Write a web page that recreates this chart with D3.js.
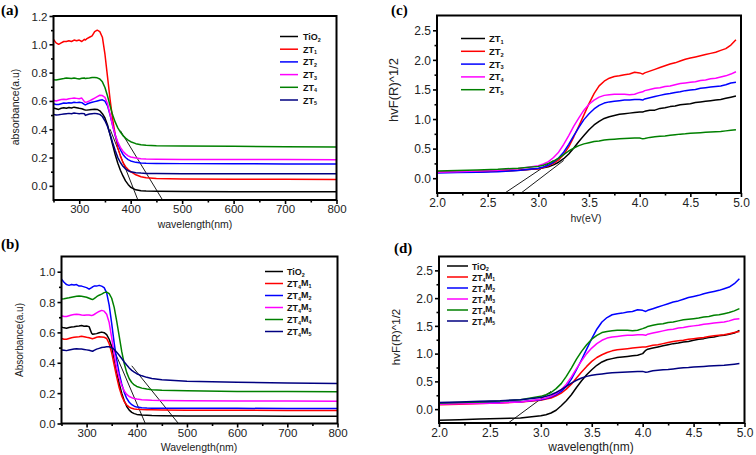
<!DOCTYPE html>
<html><head><meta charset="utf-8">
<script src="https://cdn.jsdelivr.net/npm/d3@7/dist/d3.min.js"></script>
<style>html,body{margin:0;padding:0;background:#fff;}svg{display:block;}</style>
</head><body>
<script>
// ---------- DATA ----------
const wavelengths = [250,255,260,265,270,275,280,285,290,295,300,305,310,312,315,320,325,330,335,340,345,350,355,360,365,370,375,380,385,390,395,400,410,420,430,450,500,600,700,800];
// panel (a)
const aTiO2 = [.550,.545,.540,.548,.552,.548,.553,.550,.556,.552,.548,.545,.538,.536,.535,.537,.540,.542,.540,.530,.510,.480,.430,.360,.290,.220,.160,.110,.070,.035,.010,-.010,-.028,-.034,-.037,-.039,-.040,-.041,-.042,-.042];
const aZT1 = [1.035,1.01,1.00,1.01,1.02,1.02,1.025,1.02,1.03,1.025,1.03,1.02,1.035,1.03,1.04,1.05,1.06,1.09,1.10,1.09,1.05,.93,.77,.61,.47,.36,.27,.21,.165,.135,.115,.100,.078,.064,.057,.052,.049,.047,.046,.045];
const aZT2 = [.580,.575,.575,.580,.585,.583,.587,.585,.590,.588,.590,.588,.575,.572,.578,.585,.590,.595,.600,.605,.608,.598,.565,.500,.425,.355,.300,.255,.222,.200,.185,.176,.166,.161,.159,.158,.157,.156,.155,.155];
const aZT3 = [.605,.600,.605,.610,.612,.610,.615,.618,.620,.618,.615,.620,.595,.590,.592,.600,.610,.620,.630,.640,.638,.625,.580,.505,.425,.360,.310,.272,.245,.226,.212,.204,.196,.192,.190,.188,.187,.186,.186,.185];
const aZT4 = [.750,.748,.752,.755,.758,.762,.760,.758,.762,.758,.755,.760,.762,.758,.760,.762,.765,.765,.763,.755,.735,.695,.635,.565,.500,.450,.410,.380,.355,.337,.323,.312,.298,.290,.286,.283,.281,.279,.277,.275];
const aZT5 = [.505,.500,.502,.505,.508,.510,.512,.510,.514,.512,.510,.512,.510,.498,.502,.508,.510,.512,.510,.505,.490,.460,.420,.365,.305,.250,.200,.165,.138,.120,.107,.099,.093,.090,.088,.087,.086,.086,.085,.085];
const aTangentX = [[360,414],[380,462]];
const aTangentY = [[0.40,-0.10],[0.39,-0.10]];
// panel (b)
const bTiO2 = [.635,.630,.628,.632,.635,.637,.640,.642,.645,.640,.642,.638,.595,.588,.590,.592,.598,.602,.598,.585,.555,.505,.425,.340,.262,.200,.150,.112,.088,.073,.065,.060,.056,.054,.052,.051,.050,.049,.048,.048];
const bZT4M1 = [.560,.555,.555,.560,.565,.568,.570,.572,.575,.572,.568,.565,.560,.558,.562,.568,.572,.570,.568,.560,.525,.465,.385,.305,.235,.182,.145,.122,.108,.100,.096,.094,.092,.091,.090,.089,.088,.087,.086,.086];
const bZT4M2 = [.950,.930,.915,.910,.915,.912,.915,.905,.905,.900,.895,.885,.895,.900,.905,.905,.910,.905,.895,.860,.780,.660,.530,.420,.330,.260,.205,.165,.140,.124,.114,.108,.104,.102,.101,.100,.100,.100,.099,.099];
const bZT4M3 = [.710,.705,.705,.710,.715,.718,.720,.718,.715,.713,.715,.715,.712,.713,.718,.728,.738,.745,.740,.720,.665,.565,.455,.365,.300,.250,.215,.192,.178,.170,.165,.161,.157,.155,.153,.152,.150,.149,.148,.147];
const bZT4M4 = [.820,.822,.825,.828,.832,.835,.838,.840,.838,.835,.832,.825,.818,.817,.822,.835,.845,.852,.862,.866,.855,.825,.765,.675,.575,.475,.395,.335,.295,.270,.254,.244,.233,.227,.223,.219,.215,.211,.210,.209];
const bZT4M5 = [.484,.482,.480,.484,.487,.490,.492,.490,.490,.488,.485,.482,.478,.476,.482,.490,.495,.500,.503,.505,.505,.500,.488,.470,.450,.428,.405,.385,.366,.350,.338,.328,.314,.304,.297,.288,.278,.271,.267,.264];
const bTangentX = [[350,417],[390,483]];
const bTangentY = [[0.52,0.0],[0.38,0.0]];
// panels (c) and (d)
const energies = [2.0,2.2,2.4,2.6,2.8,3.0,3.05,3.1,3.15,3.2,3.25,3.3,3.35,3.4,3.45,3.5,3.55,3.6,3.65,3.7,3.75,3.8,3.85,3.9,3.95,4.0,4.03,4.05,4.1,4.15,4.2,4.25,4.3,4.35,4.4,4.45,4.5,4.55,4.6,4.65,4.7,4.75,4.8,4.85,4.9,4.95];
const cZT1 = [.10,.105,.11,.12,.135,.16,.175,.195,.225,.27,.33,.41,.51,.62,.72,.82,.90,.96,1.01,1.04,1.06,1.08,1.09,1.10,1.11,1.12,1.12,1.13,1.15,1.15,1.18,1.19,1.21,1.22,1.24,1.25,1.26,1.28,1.29,1.30,1.31,1.32,1.33,1.35,1.37,1.39];
const cZT2 = [.10,.105,.11,.12,.135,.16,.18,.21,.25,.31,.40,.53,.70,.88,1.07,1.26,1.43,1.56,1.64,1.69,1.72,1.73,1.75,1.76,1.79,1.78,1.76,1.78,1.81,1.84,1.87,1.90,1.93,1.95,1.98,2.01,2.03,2.05,2.07,2.09,2.11,2.13,2.16,2.19,2.25,2.34];
const cZT3 = [.09,.095,.10,.11,.13,.17,.19,.22,.27,.34,.44,.57,.72,.86,.99,1.09,1.17,1.23,1.27,1.29,1.30,1.31,1.32,1.32,1.33,1.33,1.32,1.34,1.36,1.38,1.40,1.42,1.43,1.45,1.46,1.48,1.49,1.50,1.52,1.53,1.54,1.55,1.56,1.58,1.61,1.62];
const cZT4 = [.10,.11,.12,.135,.16,.21,.24,.28,.35,.44,.57,.72,.88,1.02,1.15,1.25,1.32,1.37,1.40,1.41,1.42,1.42,1.42,1.41,1.42,1.45,1.46,1.48,1.50,1.52,1.53,1.55,1.56,1.58,1.60,1.61,1.62,1.63,1.65,1.66,1.68,1.69,1.71,1.73,1.76,1.80];
const cZT5 = [.12,.13,.14,.15,.17,.20,.22,.25,.29,.34,.40,.46,.51,.55,.58,.60,.62,.63,.645,.655,.66,.665,.67,.675,.68,.68,.665,.67,.69,.70,.71,.715,.725,.735,.745,.75,.76,.765,.77,.775,.78,.785,.79,.80,.81,.82];
const cTangentX = [[2.67,3.15],[2.83,3.25]];
const cTangentY = [[-0.25,0.30],[-0.25,0.30]];
const dTiO2 = [-.20,-.19,-.18,-.17,-.16,-.12,-.10,-.07,-.02,.06,.15,.26,.39,.51,.62,.71,.79,.85,.89,.91,.93,.94,.95,.96,.97,1.0,1.06,1.08,1.10,1.12,1.14,1.16,1.18,1.19,1.21,1.22,1.24,1.26,1.27,1.29,1.30,1.32,1.33,1.35,1.37,1.42];
const dZT4M1 = [.08,.09,.10,.11,.13,.16,.18,.20,.24,.29,.36,.45,.56,.67,.77,.86,.93,.98,1.02,1.05,1.07,1.08,1.09,1.10,1.11,1.12,1.12,1.13,1.15,1.16,1.18,1.20,1.22,1.23,1.24,1.26,1.27,1.28,1.29,1.31,1.32,1.33,1.34,1.36,1.38,1.40];
const dZT4M2 = [.10,.105,.11,.12,.135,.17,.19,.22,.26,.32,.41,.54,.71,.89,1.08,1.27,1.44,1.57,1.65,1.70,1.72,1.73,1.75,1.76,1.79,1.78,1.76,1.78,1.81,1.84,1.87,1.90,1.93,1.95,1.98,2.01,2.03,2.05,2.08,2.10,2.12,2.14,2.17,2.20,2.26,2.35];
const dZT4M3 = [.09,.095,.10,.11,.13,.18,.20,.23,.28,.35,.45,.58,.73,.87,1.00,1.10,1.18,1.24,1.28,1.30,1.31,1.32,1.33,1.33,1.34,1.34,1.33,1.35,1.37,1.39,1.41,1.43,1.44,1.46,1.47,1.49,1.50,1.51,1.53,1.54,1.55,1.56,1.57,1.59,1.62,1.63];
const dZT4M4 = [.11,.12,.13,.145,.17,.23,.26,.30,.37,.46,.59,.74,.90,1.04,1.16,1.26,1.33,1.38,1.40,1.41,1.42,1.42,1.42,1.41,1.42,1.45,1.47,1.49,1.51,1.53,1.54,1.56,1.57,1.59,1.61,1.62,1.63,1.64,1.66,1.67,1.69,1.70,1.72,1.74,1.77,1.81];
const dZT4M5 = [.12,.13,.14,.15,.17,.21,.23,.26,.30,.35,.41,.47,.52,.56,.59,.61,.625,.635,.645,.655,.66,.665,.67,.675,.68,.68,.665,.67,.69,.70,.71,.715,.725,.735,.745,.75,.76,.765,.77,.775,.78,.785,.79,.80,.81,.82];
const dTangentX = [[2.68,3.10]];
const dTangentY = [[-0.25,0.32]];
// tick labels
const nmMajorTicks = [300,400,500,600,700,800];
const nmMinorTicks = [250,350,450,550,650,750];
const aYMajorTicks = [0.0,0.2,0.4,0.6,0.8,1.0,1.2];
const aYMinorTicks = [-0.1,0.1,0.3,0.5,0.7,0.9,1.1];
const bYMajorTicks = [0.0,0.2,0.4,0.6,0.8,1.0];
const bYMinorTicks = [0.1,0.3,0.5,0.7,0.9];
const evMajorTicks = [2.0,2.5,3.0,3.5,4.0,4.5,5.0];
const evMinorTicks = [2.25,2.75,3.25,3.75,4.25,4.75];
const fYMajorTicks = [0.0,0.5,1.0,1.5,2.0,2.5];
const fYMinorTicks = [-0.25,0.25,0.75,1.25,1.75,2.25];
// legend labels: parts alternate normal / subscript
const aLabels = [["TiO","2"],["ZT","1"],["ZT","2"],["ZT","3"],["ZT","4"],["ZT","5"]];
const bLabels = [["TiO","2"],["ZT","4","M","1"],["ZT","4","M","2"],["ZT","4","M","3"],["ZT","4","M","4"],["ZT","4","M","5"]];
const cLabels = [["ZT","1"],["ZT","2"],["ZT","3"],["ZT","4"],["ZT","5"]];
const dLabels = bLabels;

// ---------- STYLE ----------
const C = {black:"#000000", red:"#ff0000", blue:"#0000ff", magenta:"#ff00ff", green:"#008000", navy:"#000080"};

const svg = d3.select("body").append("svg").attr("width",756).attr("height",455)
  .style("font-family","Arial, 'Liberation Sans', Helvetica, sans-serif");

function drawPanel(p, idx){
  const x = d3.scaleLinear().domain(p.xDomain).range([p.left,p.right]);
  const y = d3.scaleLinear().domain(p.yDomain).range([p.bottom,p.top]);
  const g = svg.append("g");
  const cid = "clip"+idx;
  svg.append("clipPath").attr("id",cid).append("rect")
    .attr("x",p.left).attr("y",p.top).attr("width",p.right-p.left).attr("height",p.bottom-p.top);
  const plot = g.append("g").attr("clip-path",`url(#${cid})`);
  const line = d3.line().x(d=>x(d[0])).y(d=>y(d[1])).curve(d3.curveLinear);
  p.tx.forEach((tx,i)=>{
    plot.append("line").attr("x1",x(tx[0])).attr("y1",y(p.ty[i][0]))
      .attr("x2",x(tx[1])).attr("y2",y(p.ty[i][1]))
      .attr("stroke","#000").attr("stroke-width",0.9);
  });
  p.series.forEach(s=>{
    plot.append("path").datum(p.xs.map((v,i)=>[v,s.values[i]]))
      .attr("d",line).attr("fill","none").attr("stroke",s.color)
      .attr("stroke-width",1.5).attr("stroke-linejoin","round");
  });
  const fmt = p.fmt;
  const ax = g.append("g").attr("transform",`translate(0,${p.bottom})`)
    .call(d3.axisBottom(x).tickValues(p.xMajor).tickFormat(fmt.x).tickSize(4).tickSizeOuter(0));
  const axm = g.append("g").attr("transform",`translate(0,${p.bottom})`)
    .call(d3.axisBottom(x).tickValues(p.xMinor).tickFormat("").tickSize(2.5).tickSizeOuter(0));
  const ay = g.append("g").attr("transform",`translate(${p.left},0)`)
    .call(d3.axisLeft(y).tickValues(p.yMajor).tickFormat(fmt.y).tickSize(4).tickSizeOuter(0));
  const aym = g.append("g").attr("transform",`translate(${p.left},0)`)
    .call(d3.axisLeft(y).tickValues(p.yMinor.filter(v=>v>p.yDomain[0])).tickFormat("").tickSize(2.5).tickSizeOuter(0));
  [ax,axm,ay,aym].forEach(a=>{
    a.select(".domain").remove();
    a.selectAll(".tick line").attr("stroke","#000").attr("stroke-width",1.6);
    a.selectAll("text").attr("fill","#222").style("font-size",p.tickFont+"px");
  });
  ax.selectAll("text").attr("y",5).attr("dy","0.71em");
  ay.selectAll("text").attr("x",-6).attr("dy","0.35em");
  g.append("rect").attr("x",p.left).attr("y",p.top).attr("width",p.right-p.left).attr("height",p.bottom-p.top)
    .attr("fill","none").attr("stroke","#000").attr("stroke-width",2);
  g.append("text").attr("x",p.xTitle[0]).attr("y",p.xTitle[1]).attr("text-anchor","middle")
    .style("font-size",p.xTitleFont+"px").attr("fill","#222").text(p.xLabel);
  g.append("text").attr("transform",`translate(${p.yTitle[0]},${p.yTitle[1]}) rotate(-90)`)
    .attr("text-anchor","middle").style("font-size",p.yTitleFont+"px").attr("fill","#222").text(p.yLabel);
  g.append("text").attr("x",p.tag[0]).attr("y",p.tag[1])
    .style("font-family","'Liberation Serif','Times New Roman',serif").style("font-weight","bold")
    .style("font-size","15px").text(p.tagText);
  p.series.forEach((s,i)=>{
    const ly = p.legend.y0 + i*p.legend.dy;
    g.append("line").attr("x1",p.legend.x0).attr("x2",p.legend.x1).attr("y1",ly).attr("y2",ly)
      .attr("stroke",s.color).attr("stroke-width",1.5);
    const t = g.append("text").attr("x",p.legend.tx).attr("y",ly+3.5)
      .style("font-size",p.legend.font+"px").style("font-weight","bold").attr("fill","#111");
    s.label.forEach((part,k)=>{
      if(k%2===0){
        t.append("tspan").attr("dy", k===0?0:"-0.3em").style("font-size",p.legend.font+"px").text(part);
      } else {
        t.append("tspan").attr("dy","0.3em").style("font-size",(p.legend.font*0.6)+"px").text(part);
      }
    });
  });
}

const f1 = d3.format(".1f");
const panels = [
  { tagText:"(a)", tag:[1,15], left:53.5, right:336.5, top:16, bottom:200,
    xDomain:[250,800], yDomain:[-0.1,1.2], xs:wavelengths,
    xMajor:nmMajorTicks, xMinor:nmMinorTicks, yMajor:aYMajorTicks, yMinor:aYMinorTicks,
    fmt:{x:d3.format("d"), y:f1}, tickFont:11.5, xTitleFont:10.5, yTitleFont:10.5,
    xLabel:"wavelength(nm)", xTitle:[195,228], yLabel:"absorbance(a.u)", yTitle:[19,107],
    tx:aTangentX, ty:aTangentY,
    legend:{x0:280,x1:298,tx:303,y0:36.5,dy:12.7,font:9},
    series:[
      {values:aTiO2,color:C.black,label:aLabels[0]},
      {values:aZT1,color:C.red,label:aLabels[1]},
      {values:aZT2,color:C.blue,label:aLabels[2]},
      {values:aZT3,color:C.magenta,label:aLabels[3]},
      {values:aZT4,color:C.green,label:aLabels[4]},
      {values:aZT5,color:C.navy,label:aLabels[5]}]},
  { tagText:"(b)", tag:[1,249], left:61.5, right:337.5, top:256.5, bottom:423.5,
    xDomain:[250,800], yDomain:[0,1.1], xs:wavelengths,
    xMajor:nmMajorTicks, xMinor:nmMinorTicks, yMajor:bYMajorTicks, yMinor:bYMinorTicks,
    fmt:{x:d3.format("d"), y:f1}, tickFont:11.5, xTitleFont:10.5, yTitleFont:10,
    xLabel:"Wavelength(nm)", xTitle:[199,451], yLabel:"Absorbance(a.u)", yTitle:[23,340],
    tx:bTangentX, ty:bTangentY,
    legend:{x0:265,x1:283,tx:287,y0:271.5,dy:12,font:9},
    series:[
      {values:bTiO2,color:C.black,label:bLabels[0]},
      {values:bZT4M1,color:C.red,label:bLabels[1]},
      {values:bZT4M2,color:C.blue,label:bLabels[2]},
      {values:bZT4M3,color:C.magenta,label:bLabels[3]},
      {values:bZT4M4,color:C.green,label:bLabels[4]},
      {values:bZT4M5,color:C.navy,label:bLabels[5]}]},
  { tagText:"(c)", tag:[391,15], left:437, right:741, top:15.5, bottom:193,
    xDomain:[2,5], yDomain:[-0.25,2.75], xs:energies,
    xMajor:evMajorTicks, xMinor:evMinorTicks, yMajor:fYMajorTicks, yMinor:fYMinorTicks,
    fmt:{x:f1, y:f1}, tickFont:12, xTitleFont:10.5, yTitleFont:13,
    xLabel:"hv(eV)", xTitle:[586,222], yLabel:"hvF(R)^1/2", yTitle:[398,90],
    tx:cTangentX, ty:cTangentY,
    legend:{x0:461,x1:485,tx:489,y0:38.5,dy:12.8,font:9.5},
    series:[
      {values:cZT1,color:C.black,label:cLabels[0]},
      {values:cZT2,color:C.red,label:cLabels[1]},
      {values:cZT3,color:C.blue,label:cLabels[2]},
      {values:cZT4,color:C.magenta,label:cLabels[3]},
      {values:cZT5,color:C.green,label:cLabels[4]}]},
  { tagText:"(d)", tag:[394,253], left:439, right:744.5, top:256.5, bottom:423,
    xDomain:[2,5], yDomain:[-0.25,2.75], xs:energies,
    xMajor:evMajorTicks, xMinor:evMinorTicks, yMajor:fYMajorTicks, yMinor:fYMinorTicks,
    fmt:{x:f1, y:f1}, tickFont:12, xTitleFont:12, yTitleFont:11.5,
    xLabel:"wavelength(nm)", xTitle:[591,451], yLabel:"hvF(R)^1/2", yTitle:[400,337],
    tx:dTangentX, ty:dTangentY,
    legend:{x0:447,x1:468,tx:472,y0:266,dy:11,font:8.5},
    series:[
      {values:dTiO2,color:C.black,label:dLabels[0]},
      {values:dZT4M1,color:C.red,label:dLabels[1]},
      {values:dZT4M2,color:C.blue,label:dLabels[2]},
      {values:dZT4M3,color:C.magenta,label:dLabels[3]},
      {values:dZT4M4,color:C.green,label:dLabels[4]},
      {values:dZT4M5,color:C.navy,label:dLabels[5]}]}
];
panels.forEach(drawPanel);
</script>
</body></html>
